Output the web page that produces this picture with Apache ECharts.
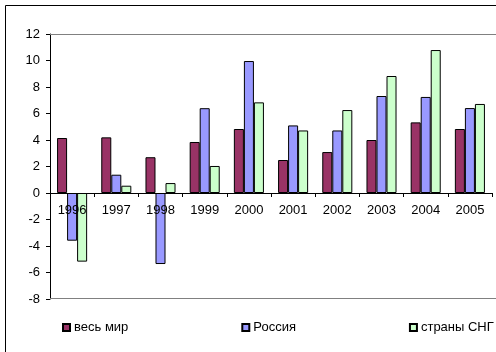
<!DOCTYPE html>
<html>
<head>
<meta charset="utf-8">
<script src="https://cdn.jsdelivr.net/npm/echarts@6/dist/echarts.min.js"></script>
<style>
  html, body { margin: 0; padding: 0; background: #fff; }
  #chart { width: 496px; height: 352px; }
</style>
</head>
<body>
<div id="chart"></div>
<script>
// годы
const years = ['1996', '1997', '1998', '1999', '2000', '2001', '2002', '2003', '2004', '2005']
// рост ВВП, %
const world = [4.15, 4.2, 2.7, 3.85, 4.83, 2.49, 3.09, 4.0, 5.33, 4.83]
const russia = [-3.6, 1.38, -5.36, 6.4, 9.96, 5.1, 4.72, 7.32, 7.25, 6.41]
const cis = [-5.18, 0.55, 0.75, 2.04, 6.84, 4.72, 6.26, 8.83, 10.79, 6.72]
const seriesNames = ['весь мир', 'Россия', 'страны СНГ']
const colors = ['#993366', '#9999FF', '#CCFFCC']
// ось значений
const yMin = -8
const yMax = 12
const yStep = 2

const font = 'Liberation Sans, Arial, sans-serif'
const gridLeft = 50
const gridTop = 34
const gridBottom = 53
const gridHeight = 352 - gridTop - gridBottom
// ось категорий проходит через 0
const zeroOffset = -gridHeight * (0 - yMin) / (yMax - yMin)

const chart = echarts.init(document.getElementById('chart'))

const makeBar = (name, data, color) => ({
  name: name,
  type: 'bar',
  data: data,
  barGap: '0%',
  barCategoryGap: '32%',
  itemStyle: { color: color, borderColor: '#000', borderWidth: 1 },
  emphasis: { disabled: true }
})

// серая линия границы области построения (прямоугольник высотой 1px)
const grayLine = (y) => ({
  type: 'rect',
  silent: true,
  z: 5,
  shape: { x: gridLeft, y: y, width: 496 - gridLeft, height: 1 },
  style: { fill: '#808080', stroke: null }
})

const option = {
  animation: false,
  textStyle: { fontFamily: font },
  graphic: [{
    type: 'rect',
    silent: true,
    shape: { x: 5.5, y: 5.5, width: 520, height: 400 },
    style: { fill: 'none', stroke: '#000', lineWidth: 1 }
  }, grayLine(gridTop), grayLine(gridTop + gridHeight - 1)],
  grid: { left: gridLeft, right: 4, top: gridTop, bottom: gridBottom },
  legend: {
    left: 62,
    top: 321,
    padding: 0,
    icon: 'rect',
    itemWidth: 7,
    itemHeight: 7,
    itemGap: 113,
    textStyle: { fontFamily: font, fontSize: 13, color: '#000', padding: [0, 0, 0, -1] },
    data: seriesNames
  },
  xAxis: {
    type: 'category',
    data: years,
    offset: zeroOffset,
    z: 10,
    axisLine: { onZero: false, lineStyle: { color: '#000', width: 1 } },
    axisTick: { show: true, length: 4, lineStyle: { color: '#000' } },
    axisLabel: { color: '#000', fontSize: 13, fontFamily: font, margin: 11 },
    splitLine: { show: false }
  },
  yAxis: {
    type: 'value',
    min: yMin,
    max: yMax,
    interval: yStep,
    axisLine: { show: true, lineStyle: { color: '#000', width: 1 } },
    axisTick: { show: true, length: 4, lineStyle: { color: '#000' } },
    axisLabel: { color: '#000', fontSize: 13, fontFamily: font, margin: 10 },
    splitLine: { show: false }
  },
  series: [
    makeBar(seriesNames[0], world, colors[0]),
    makeBar(seriesNames[1], russia, colors[1]),
    makeBar(seriesNames[2], cis, colors[2])
  ]
}

chart.setOption(option)
</script>
</body>
</html>
